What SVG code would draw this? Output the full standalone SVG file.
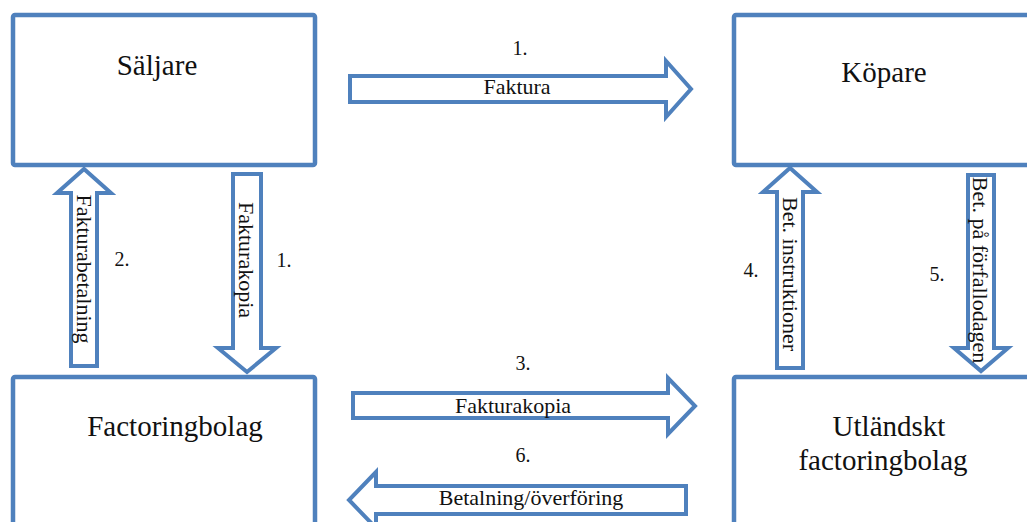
<svg xmlns="http://www.w3.org/2000/svg" width="1027" height="522" viewBox="0 0 1027 522">
  <style>
    .box { fill: #ffffff; stroke: #4f81bd; stroke-width: 4.5; stroke-linejoin: round; }
    .arrow { fill: #ffffff; stroke: #4f81bd; stroke-width: 4; stroke-linejoin: miter; }
    .title { font-family: "Liberation Serif", "Times New Roman", serif; font-size: 29px; fill: #111111; text-anchor: middle; }
    .label { font-family: "Liberation Serif", "Times New Roman", serif; font-size: 22px; fill: #111111; text-anchor: middle; }
    .num { font-family: "Liberation Serif", "Times New Roman", serif; font-size: 20px; fill: #111111; text-anchor: middle; }
  </style>
  <rect width="1027" height="522" fill="#ffffff"/>

  <!-- Parties -->
  <g id="saljare">
    <rect class="box" x="13" y="15" width="302" height="150" rx="2"/>
    <text class="title" x="157" y="75">Säljare</text>
  </g>
  <g id="kopare">
    <rect class="box" x="734" y="15" width="302" height="150" rx="2"/>
    <text class="title" x="884" y="82">Köpare</text>
  </g>
  <g id="factoringbolag">
    <rect class="box" x="13" y="377" width="302" height="160" rx="2"/>
    <text class="title" x="175" y="436">Factoringbolag</text>
  </g>
  <g id="utlandskt-factoringbolag">
    <rect class="box" x="734" y="377" width="302" height="160" rx="2"/>
    <text class="title" x="889" y="436">Utländskt</text>
    <text class="title" x="883" y="470">factoringbolag</text>
  </g>

  <!-- Flows between the parties -->
  <g id="connectors">
    <!-- 1. Faktura: seller to buyer -->
    <path class="arrow" d="M350,76 H666 V61 L691,89 L666,117 V102 H350 Z"/>
    <text class="num" x="520" y="55">1.</text>
    <text class="label" x="517" y="94">Faktura</text>

    <!-- 2. Fakturabetalning: factoring company to seller -->
    <path class="arrow" d="M71,366 V193 H57 L84,169 L111,193 H97 V366 Z"/>
    <text class="label" transform="translate(77,269) rotate(90)">Fakturabetalning</text>
    <text class="num" x="122" y="266">2.</text>

    <!-- 1. Fakturakopia: seller to factoring company -->
    <path class="arrow" d="M233,174 H261 V348 H276 L247,372 L218,348 H233 Z"/>
    <text class="label" transform="translate(239,260) rotate(90)">Fakturakopia</text>
    <text class="num" x="284" y="267">1.</text>

    <!-- 3. Fakturakopia: factoring company to foreign factoring company -->
    <path class="arrow" d="M353,393 H668 V378 L695,406 L668,434 V418 H353 Z"/>
    <text class="num" x="523" y="370">3.</text>
    <text class="label" x="513" y="413">Fakturakopia</text>

    <!-- 4. Bet. instruktioner: foreign factoring company to buyer -->
    <path class="arrow" d="M777,368 V192 H763 L790,168 L817,192 H803 V368 Z"/>
    <text class="label" transform="translate(783,274) rotate(90)">Bet. instruktioner</text>
    <text class="num" x="751" y="277">4.</text>

    <!-- 5. Bet. på förfallodagen: buyer to foreign factoring company -->
    <path class="arrow" d="M968,175 H994 V348 H1008 L981,371 L954,348 H968 Z"/>
    <text class="label" transform="translate(973,270) rotate(90)">Bet. på förfallodagen</text>
    <text class="num" x="937" y="281">5.</text>

    <!-- 6. Betalning/överföring: foreign factoring company to factoring company -->
    <path class="arrow" d="M686,486 H376 V472 L349,500 L376,528 V514 H686 Z"/>
    <text class="num" x="523" y="462">6.</text>
    <text class="label" x="531" y="505">Betalning/överföring</text>
  </g>
</svg>
